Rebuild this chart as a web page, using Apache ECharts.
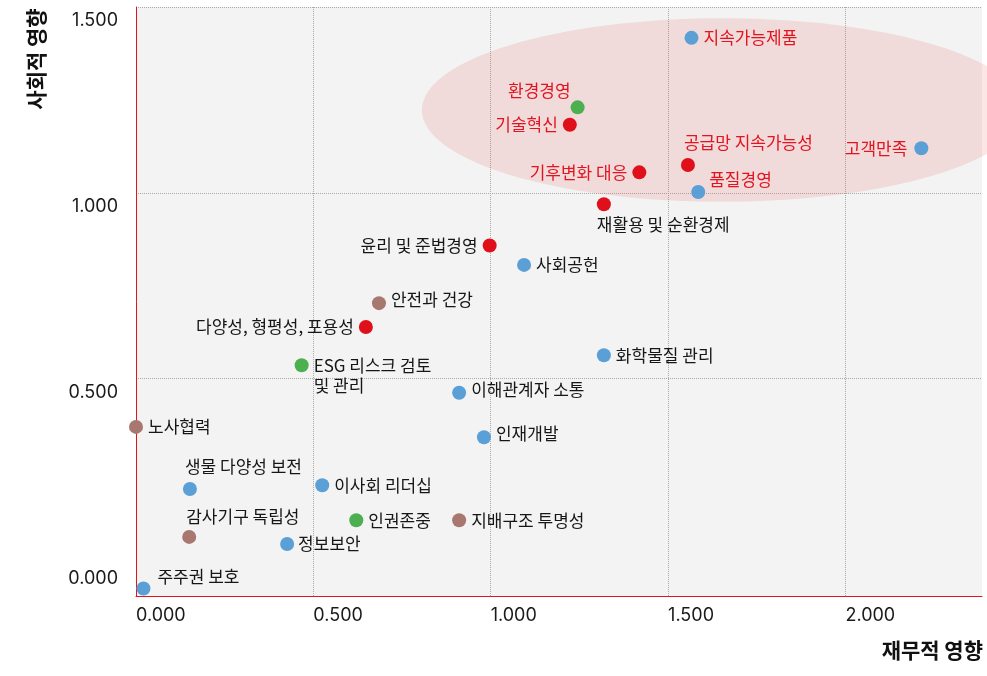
<!DOCTYPE html>
<html>
<head>
<meta charset="utf-8">
<title>ESG 중대성 평가</title>
<script src="https://cdn.jsdelivr.net/npm/echarts@6/dist/echarts.min.js"></script>
<style>
  html, body { margin: 0; padding: 0; background: #fff; }
  #chart { width: 987px; height: 676px; }
</style>
</head>
<body>
<div id="chart"></div>
<script>
// 이슈별 재무적 영향(x) / 사회적 영향(y)
var issueNames = [
    '지속가능제품', '환경경영', '기술혁신', '공급망 지속가능성', '기후변화 대응', '품질경영',
    '고객만족', '재활용 및 순환경제', '윤리 및 준법경영', '사회공헌', '안전과 건강',
    '다양성, 형평성, 포용성', 'ESG 리스크 검토\n및 관리', '화학물질 관리', '이해관계자 소통',
    '노사협력', '인재개발', '생물 다양성 보전', '이사회 리더십', '인권존중', '지배구조 투명성',
    '감사기구 독립성', '정보보안', '주주권 보호'
];
var financialImpact = [
    1.566, 1.245, 1.223, 1.556, 1.419, 1.585,
    2.214, 1.319, 0.997, 1.094, 0.685,
    0.648, 0.467, 1.319, 0.911,
    0.000, 0.981, 0.152, 0.525, 0.621, 0.911,
    0.150, 0.426, 0.021
];
var socialImpact = [
    1.417, 1.230, 1.183, 1.075, 1.055, 1.002,
    1.120, 0.969, 0.858, 0.806, 0.703,
    0.639, 0.536, 0.563, 0.462,
    0.370, 0.342, 0.203, 0.213, 0.119, 0.119,
    0.074, 0.055, -0.065
];
// 이슈 유형 (0~3)
var issueType = [
    0, 2, 1, 1, 1, 0,
    0, 1, 1, 0, 3,
    1, 2, 0, 0,
    3, 0, 0, 0, 2, 3,
    3, 0, 0
];
// 중대 이슈 (강조 영역)
var focusIssues = ['지속가능제품', '환경경영', '기술혁신', '공급망 지속가능성', '기후변화 대응', '품질경영', '고객만족'];
var focusCenter = [1.654, 1.223];
var focusRadius = [0.848, 0.247];

var xTicks = [0, 0.5, 1, 1.5, 2];
var yTicks = [0, 0.5, 1, 1.5];
var yGridTicks = [0.5, 1, 1.5];

var typeColors = ['#5a9fd6', '#e0101b', '#4caf50', '#a8776f'];
var NUM_FONT = 'Inter, "Noto Sans CJK KR", sans-serif';
var KR_FONT = '"Noto Sans CJK KR", "Noto Sans", sans-serif';

// 라벨 위치 (스타일)
var labelPlace = {
    '환경경영': {position: 'left', offset: [5, -17]},
    '기술혁신': {position: 'left'},
    '공급망 지속가능성': {position: 'top', align: 'left', offset: [-4, 0]},
    '기후변화 대응': {position: 'left'},
    '품질경영': {position: 'right', offset: [-1, -13]},
    '고객만족': {position: 'left', offset: [-2, 0]},
    '재활용 및 순환경제': {position: 'bottom', align: 'left', offset: [-7, -2]},
    '윤리 및 준법경영': {position: 'left'},
    '안전과 건강': {position: 'right', offset: [0, -4]},
    '다양성, 형평성, 포용성': {position: 'left'},
    'ESG 리스크 검토\n및 관리': {position: 'right', offset: [0, 10]},
    '이해관계자 소통': {position: 'right', offset: [0, -3]},
    '인재개발': {position: 'right', offset: [0, -4]},
    '생물 다양성 보전': {position: 'top', align: 'left', offset: [-5, 0]},
    '감사기구 독립성': {position: 'top', align: 'left', offset: [-3, 2]},
    '정보보안': {position: 'right', offset: [-1, 0]},
    '주주권 보호': {position: 'right', offset: [2, -12]}
};

var points = issueNames.map(function (name, i) {
    var place = labelPlace[name] || {position: 'right'};
    var focus = focusIssues.indexOf(name) >= 0;
    return {
        name: name,
        value: [financialImpact[i], socialImpact[i]],
        itemStyle: {color: typeColors[issueType[i]], opacity: 1},
        label: {
            position: place.position,
            align: place.align,
            offset: place.offset || [0, 0],
            color: focus ? '#e3141f' : '#161616'
        }
    };
});

var chart = echarts.init(document.getElementById('chart'));

chart.setOption({
    animation: false,
    textStyle: {fontFamily: KR_FONT},
    grid: {
        left: 136, right: 5, top: 7, bottom: 80,
        show: true, backgroundColor: '#f3f3f3', borderWidth: 0
    },
    xAxis: {
        type: 'value',
        min: 0,
        max: 2.385,
        axisLine: {show: true, onZero: false, lineStyle: {color: '#e3141f', width: 1}},
        axisTick: {show: false, customValues: xTicks},
        axisLabel: {
            customValues: xTicks,
            align: 'left',
            margin: 11,
            fontSize: 18,
            color: '#1a1a1a',
            fontFamily: NUM_FONT,
            formatter: function (v) { return v.toFixed(3); }
        },
        splitLine: {show: true, lineStyle: {type: 'dotted', color: '#aaa', width: 1}}
    },
    yAxis: {
        type: 'value',
        min: -0.085,
        max: 1.5,
        axisLine: {show: true, onZero: false, lineStyle: {color: '#e3141f', width: 1}},
        axisTick: {show: false, customValues: yGridTicks},
        axisLabel: {
            customValues: yTicks,
            verticalAlign: 'top',
            padding: [5, 0, 0, 0],
            margin: 18,
            fontSize: 18,
            color: '#1a1a1a',
            fontFamily: NUM_FONT,
            formatter: function (v) { return v.toFixed(3); }
        },
        splitLine: {show: true, lineStyle: {type: 'dotted', color: '#aaa', width: 1}}
    },
    graphic: [
        {
            type: 'text',
            x: 36, y: 59,
            rotation: Math.PI / 2,
            style: {
                text: '사회적 영향', fill: '#111', fontSize: 21, fontWeight: 'bold',
                fontFamily: KR_FONT, align: 'center', verticalAlign: 'middle'
            }
        },
        {
            type: 'text',
            x: 983, y: 650,
            style: {
                text: '재무적 영향', fill: '#111', fontSize: 21, fontWeight: 'bold',
                fontFamily: KR_FONT, align: 'right', verticalAlign: 'middle'
            }
        }
    ],
    series: [
        {
            type: 'custom',
            clip: false,
            silent: true,
            z: 1,
            data: [focusCenter],
            renderItem: function (params, api) {
                var c = api.coord([api.value(0), api.value(1)]);
                var s = api.size(focusRadius);
                return {
                    type: 'ellipse',
                    shape: {cx: c[0], cy: c[1], rx: s[0], ry: s[1]},
                    style: {fill: 'rgba(226, 80, 80, 0.15)'}
                };
            }
        },
        {
            type: 'scatter',
            z: 3,
            symbolSize: 14,
            clip: false,
            data: points,
            label: {
                show: true,
                fontSize: 17,
                lineHeight: 20,
                fontFamily: KR_FONT,
                formatter: '{b}'
            },
            emphasis: {disabled: true}
        }
    ]
});
</script>
</body>
</html>
